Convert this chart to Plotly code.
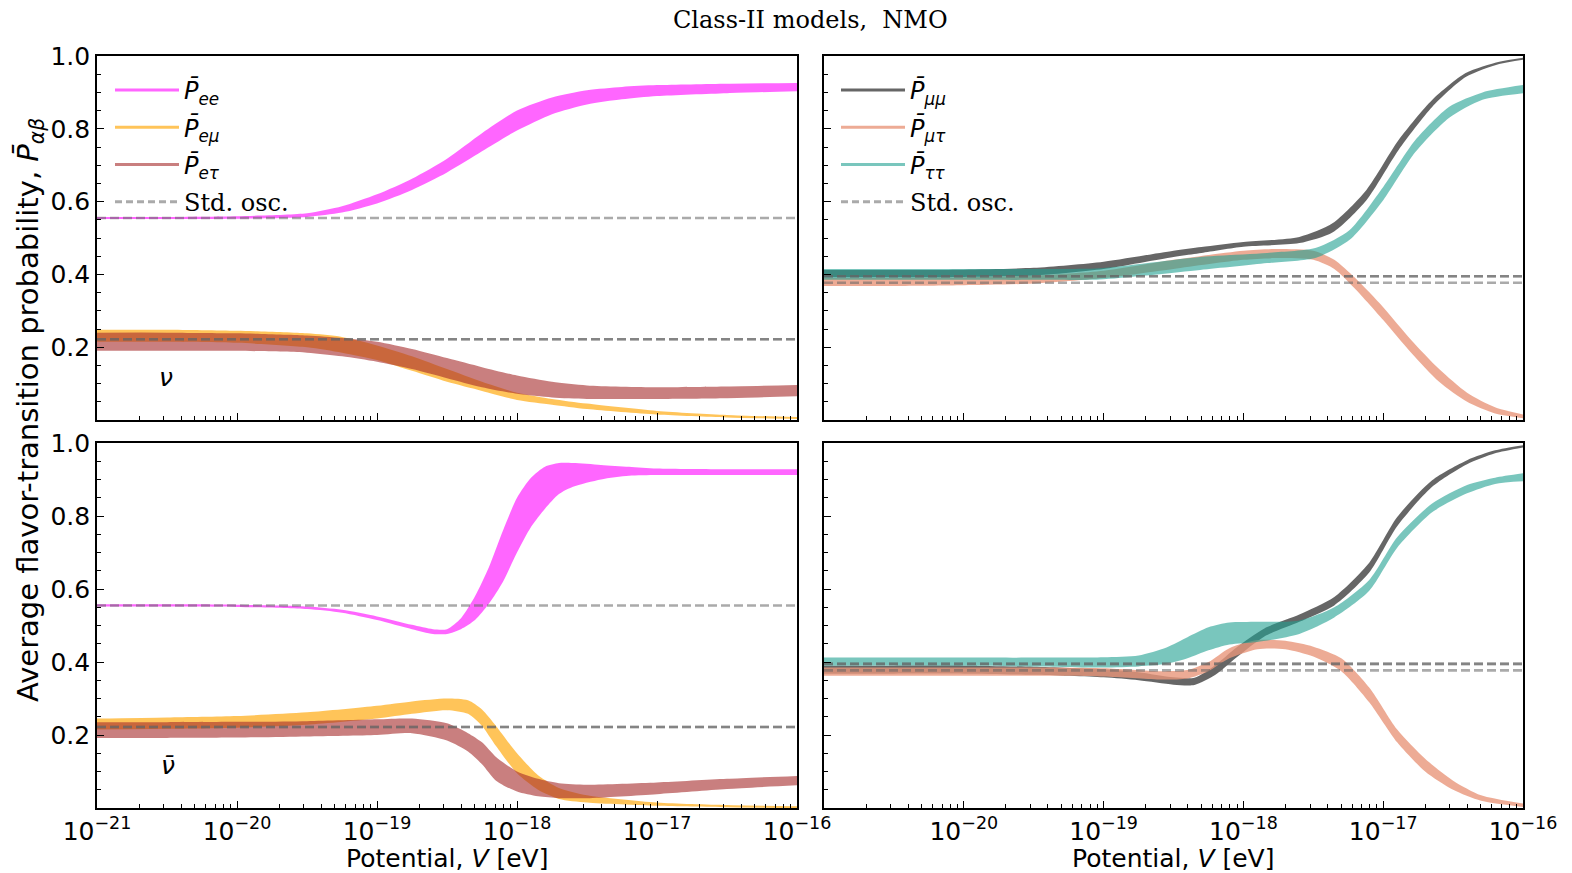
import numpy as np
import plotly.graph_objects as go

# ---------------- data (log10 of potential V [eV]) ----------------
# Top-left: neutrinos, P_ee / P_emu / P_etau bands (lo, hi)
nu_ee_x  = [-21, -20.5, -20, -19.5, -19.25, -19.0, -18.75, -18.5, -18.25, -18.0, -17.75, -17.5, -17.25, -17.0, -16.5, -16.0]
nu_ee_lo = [0.552, 0.552, 0.553, 0.558, 0.570, 0.595, 0.632, 0.680, 0.738, 0.795, 0.840, 0.867, 0.881, 0.890, 0.898, 0.903]
nu_ee_hi = [0.558, 0.558, 0.560, 0.568, 0.587, 0.620, 0.663, 0.718, 0.788, 0.850, 0.886, 0.906, 0.915, 0.920, 0.924, 0.926]

nu_em_x  = [-21, -20.5, -20, -19.5, -19.25, -19.0, -18.75, -18.5, -18.25, -18.0, -17.75, -17.5, -17.0, -16.5, -16.0]
nu_em_lo = [0.215, 0.215, 0.212, 0.200, 0.185, 0.165, 0.135, 0.105, 0.080, 0.055, 0.042, 0.030, 0.015, 0.007, 0.003]
nu_em_hi = [0.248, 0.248, 0.245, 0.238, 0.228, 0.205, 0.175, 0.140, 0.105, 0.075, 0.058, 0.045, 0.025, 0.014, 0.008]

nu_et_x  = [-21, -20.5, -20, -19.5, -19.25, -19.0, -18.75, -18.5, -18.25, -18.0, -17.75, -17.5, -17.0, -16.5, -16.0]
nu_et_lo = [0.190, 0.190, 0.190, 0.185, 0.175, 0.160, 0.140, 0.115, 0.090, 0.072, 0.062, 0.058, 0.058, 0.060, 0.065]
nu_et_hi = [0.240, 0.240, 0.238, 0.232, 0.225, 0.215, 0.195, 0.170, 0.145, 0.122, 0.105, 0.095, 0.090, 0.092, 0.096]

# Top-right: neutrinos, P_mumu / P_mutau / P_tautau
nu_mm_x  = [-21, -20.5, -20, -19.5, -19.0, -18.5, -18.3, -18.0, -17.6, -17.36, -17.12, -16.89, -16.65, -16.41, -16.17, -16.0]
nu_mm_lo = [0.392, 0.392, 0.393, 0.397, 0.415, 0.448, 0.459, 0.476, 0.486, 0.516, 0.604, 0.742, 0.860, 0.942, 0.978, 0.990]
nu_mm_hi = [0.412, 0.412, 0.413, 0.418, 0.435, 0.465, 0.475, 0.489, 0.503, 0.541, 0.632, 0.769, 0.879, 0.953, 0.984, 0.995]

nu_mt_x  = [-21, -20.5, -20, -19.5, -19.0, -18.5, -18.0, -17.75, -17.5, -17.35, -17.2, -17.0, -16.8, -16.6, -16.4, -16.2, -16.0]
nu_mt_lo = [0.368, 0.368, 0.370, 0.375, 0.390, 0.415, 0.440, 0.445, 0.440, 0.415, 0.360, 0.275, 0.185, 0.105, 0.050, 0.018, 0.005]
nu_mt_hi = [0.390, 0.390, 0.392, 0.397, 0.410, 0.440, 0.465, 0.470, 0.465, 0.440, 0.390, 0.310, 0.220, 0.140, 0.075, 0.035, 0.015]

nu_tt_x  = [-21, -20.5, -20, -19.5, -19.03, -18.31, -17.83, -17.48, -17.24, -17.0, -16.77, -16.53, -16.29, -16.0]
nu_tt_lo = [0.385, 0.385, 0.385, 0.385, 0.386, 0.412, 0.431, 0.446, 0.495, 0.604, 0.736, 0.830, 0.880, 0.898]
nu_tt_hi = [0.415, 0.415, 0.415, 0.415, 0.417, 0.448, 0.459, 0.473, 0.522, 0.640, 0.769, 0.860, 0.900, 0.920]

# Bottom-left: antineutrinos
an_ee_x  = [-21, -20.5, -20, -19.5, -19.25, -19.0, -18.75, -18.6, -18.5, -18.4, -18.3, -18.2, -18.1, -18.0, -17.9, -17.8, -17.7, -17.6, -17.4, -17.2, -17.0, -16.5, -16.0]
an_ee_lo = [0.552, 0.552, 0.551, 0.545, 0.535, 0.515, 0.490, 0.477, 0.477, 0.490, 0.515, 0.560, 0.620, 0.700, 0.770, 0.820, 0.860, 0.880, 0.900, 0.910, 0.912, 0.912, 0.912]
an_ee_hi = [0.558, 0.558, 0.557, 0.552, 0.543, 0.525, 0.502, 0.490, 0.490, 0.520, 0.580, 0.660, 0.760, 0.850, 0.905, 0.935, 0.945, 0.945, 0.940, 0.935, 0.930, 0.928, 0.928]

an_em_x  = [-21, -20.5, -20, -19.5, -19.0, -18.75, -18.5, -18.35, -18.25, -18.15, -18.0, -17.85, -17.7, -17.5, -17.0, -16.5, -16.0]
an_em_lo = [0.215, 0.217, 0.220, 0.228, 0.245, 0.258, 0.268, 0.258, 0.225, 0.170, 0.095, 0.050, 0.025, 0.015, 0.006, 0.002, 0.000]
an_em_hi = [0.245, 0.248, 0.252, 0.262, 0.280, 0.292, 0.300, 0.295, 0.270, 0.225, 0.150, 0.090, 0.055, 0.035, 0.015, 0.008, 0.005]

an_et_x  = [-21, -20.5, -20, -19.5, -19.0, -18.75, -18.5, -18.35, -18.25, -18.15, -18.0, -17.85, -17.7, -17.5, -17.0, -16.5, -16.0]
an_et_lo = [0.192, 0.192, 0.193, 0.196, 0.200, 0.205, 0.185, 0.155, 0.120, 0.075, 0.045, 0.032, 0.027, 0.027, 0.038, 0.052, 0.062]
an_et_hi = [0.235, 0.235, 0.236, 0.238, 0.243, 0.245, 0.232, 0.205, 0.180, 0.140, 0.100, 0.080, 0.068, 0.064, 0.070, 0.080, 0.088]

# Bottom-right: antineutrinos
an_mm_x  = [-21, -20.5, -20, -19.5, -19.0, -18.75, -18.5, -18.35, -18.2, -18.05, -17.85, -17.6, -17.35, -17.1, -16.9, -16.65, -16.4, -16.2, -16.0]
an_mm_lo = [0.368, 0.368, 0.368, 0.365, 0.358, 0.350, 0.338, 0.337, 0.365, 0.412, 0.470, 0.510, 0.555, 0.645, 0.772, 0.880, 0.942, 0.972, 0.988]
an_mm_hi = [0.390, 0.390, 0.390, 0.387, 0.380, 0.372, 0.358, 0.357, 0.392, 0.440, 0.492, 0.530, 0.578, 0.672, 0.797, 0.898, 0.953, 0.980, 0.994]

an_mt_x  = [-21, -20, -19.5, -19.0, -18.6, -18.4, -18.25, -18.1, -17.9, -17.7, -17.5, -17.3, -17.1, -16.9, -16.7, -16.5, -16.3, -16.0]
an_mt_lo = [0.362, 0.362, 0.362, 0.360, 0.352, 0.355, 0.375, 0.410, 0.435, 0.435, 0.415, 0.375, 0.290, 0.180, 0.100, 0.050, 0.020, 0.003]
an_mt_hi = [0.385, 0.385, 0.385, 0.383, 0.375, 0.378, 0.400, 0.438, 0.460, 0.458, 0.442, 0.410, 0.330, 0.215, 0.135, 0.075, 0.035, 0.012]

an_tt_x  = [-21, -20, -19.5, -19.0, -18.75, -18.55, -18.4, -18.25, -18.1, -17.9, -17.6, -17.35, -17.1, -16.9, -16.65, -16.4, -16.2, -16.0]
an_tt_lo = [0.390, 0.390, 0.388, 0.385, 0.388, 0.395, 0.410, 0.432, 0.448, 0.455, 0.477, 0.522, 0.595, 0.713, 0.810, 0.862, 0.888, 0.895]
an_tt_hi = [0.412, 0.412, 0.412, 0.413, 0.418, 0.440, 0.468, 0.495, 0.508, 0.510, 0.514, 0.550, 0.625, 0.742, 0.834, 0.885, 0.905, 0.917]

# Standard oscillation values
std_e = [0.555, 0.222, 0.222]        # ee, emu, etau
std_mu = [0.395, 0.377, 0.395]       # mumu, mutau, tautau

x_range_exp = [-21, -16]
y_ticks = [0.2, 0.4, 0.6, 0.8, 1.0]

# ---------------- styling ----------------
C_EE = "rgba(255,0,255,0.6)"
C_EM = "rgba(255,165,0,0.65)"
C_ET = "rgba(165,42,42,0.6)"
C_MM = "rgba(0,0,0,0.6)"
C_MT = "rgba(233,150,122,0.8)"
C_TT = "rgba(32,160,145,0.6)"
C_STD = "rgba(100,100,100,0.55)"

SANS = "DejaVu Sans"
SERIF = "DejaVu Serif"

W, H = 1572, 873
fig = go.Figure()

def band(xe, lo, hi, color, xa, ya):
    xv = [10.0 ** e for e in xe]
    fig.add_trace(go.Scatter(x=xv, y=lo, mode="lines", line=dict(width=0, color=color, shape="spline", smoothing=0.7),
                             xaxis=xa, yaxis=ya, showlegend=False, hoverinfo="skip"))
    fig.add_trace(go.Scatter(x=xv, y=hi, mode="lines", line=dict(width=0, color=color, shape="spline", smoothing=0.7),
                             fill="tonexty", fillcolor=color, xaxis=xa, yaxis=ya, showlegend=False, hoverinfo="skip"))

def std_line(val, xa, ya):
    xv = [10.0 ** x_range_exp[0], 10.0 ** x_range_exp[1]]
    fig.add_trace(go.Scatter(x=xv, y=[val, val], mode="lines",
                             line=dict(color=C_STD, width=2.6, dash="9px,4px"),
                             xaxis=xa, yaxis=ya, showlegend=False, hoverinfo="skip"))

# panels
band(nu_ee_x, nu_ee_lo, nu_ee_hi, C_EE, "x", "y")
band(nu_em_x, nu_em_lo, nu_em_hi, C_EM, "x", "y")
band(nu_et_x, nu_et_lo, nu_et_hi, C_ET, "x", "y")
for v in std_e:
    std_line(v, "x", "y")

band(nu_mm_x, nu_mm_lo, nu_mm_hi, C_MM, "x2", "y2")
band(nu_mt_x, nu_mt_lo, nu_mt_hi, C_MT, "x2", "y2")
band(nu_tt_x, nu_tt_lo, nu_tt_hi, C_TT, "x2", "y2")
for v in std_mu:
    std_line(v, "x2", "y2")

band(an_ee_x, an_ee_lo, an_ee_hi, C_EE, "x3", "y3")
band(an_em_x, an_em_lo, an_em_hi, C_EM, "x3", "y3")
band(an_et_x, an_et_lo, an_et_hi, C_ET, "x3", "y3")
for v in std_e:
    std_line(v, "x3", "y3")

band(an_mm_x, an_mm_lo, an_mm_hi, C_MM, "x4", "y4")
band(an_mt_x, an_mt_lo, an_mt_hi, C_MT, "x4", "y4")
band(an_tt_x, an_tt_lo, an_tt_hi, C_TT, "x4", "y4")
for v in std_mu:
    std_line(v, "x4", "y4")

# legend entries
def leg(name, color, legend, xa, ya, dash=None, group=None):
    fig.add_trace(go.Scatter(x=[None], y=[None], mode="lines", name=name,
                             line=dict(color=color, width=3, dash=dash),
                             xaxis=xa, yaxis=ya, legend=legend, legendgroup=group or name))

serif_std = f"<span style='font-family:{SERIF}'>Std. osc.</span>"
leg("<i>P\u0304</i><sub><i>ee</i></sub>", C_EE, "legend", "x", "y")
leg("<i>P\u0304</i><sub><i>e\u03bc</i></sub>", C_EM, "legend", "x", "y")
leg("<i>P\u0304</i><sub><i>e\u03c4</i></sub>", C_ET, "legend", "x", "y")
leg(serif_std, C_STD, "legend", "x", "y", dash="7px,4px", group="std1")
leg("<i>P\u0304</i><sub><i>\u03bc\u03bc</i></sub>", C_MM, "legend2", "x2", "y2")
leg("<i>P\u0304</i><sub><i>\u03bc\u03c4</i></sub>", C_MT, "legend2", "x2", "y2")
leg("<i>P\u0304</i><sub><i>\u03c4\u03c4</i></sub>", C_TT, "legend2", "x2", "y2")
leg(serif_std, C_STD, "legend2", "x2", "y2", dash="7px,4px", group="std2")

# axes geometry (pixels -> paper)
xl = [97 / W, 797 / W]
xr = [824 / W, 1523 / W]
yt = [1 - 420 / H, 1 - 56 / H]
yb = [1 - 808 / H, 1 - 443 / H]

dec_vals = [10.0 ** e for e in range(x_range_exp[0], x_range_exp[1] + 1)]
dec_text = [f"10<sup>\u2212{abs(e)}</sup>" for e in range(x_range_exp[0], x_range_exp[1] + 1)]
minor_vals = [k * 10.0 ** e for e in range(x_range_exp[0], x_range_exp[1]) for k in range(2, 10)]

TICK_SIZE = 25

def xaxis(domain, anchor, labels, text):
    return dict(domain=domain, anchor=anchor, type="log", automargin=False,
                range=x_range_exp, showline=True, mirror=True, linecolor="black", linewidth=1.6,
                showgrid=False, zeroline=False,
                ticks="inside", ticklen=7, tickwidth=1.3, tickcolor="black",
                tickmode="array", tickvals=dec_vals, ticktext=text, showticklabels=labels,
                tickfont=dict(family=SANS, size=TICK_SIZE, color="black"),
                minor=dict(tickmode="array", tickvals=minor_vals, ticks="inside", ticklen=4,
                           tickwidth=1.1, tickcolor="black", showgrid=False))

def yaxis(domain, anchor, labels):
    return dict(domain=domain, anchor=anchor, range=[0, 1], automargin=False,
                showline=True, mirror=True, linecolor="black", linewidth=1.6,
                showgrid=False, zeroline=False,
                ticks="inside", ticklen=7, tickwidth=1.3, tickcolor="black",
                tickmode="array", tickvals=y_ticks, ticktext=[f"{v:.1f}" for v in y_ticks],
                showticklabels=labels,
                tickfont=dict(family=SANS, size=TICK_SIZE, color="black"),
                minor=dict(dtick=0.05, tick0=0, ticks="inside", ticklen=4, tickwidth=1.1,
                           tickcolor="black", showgrid=False))

text_br = [""] + dec_text[1:]

fig.update_layout(
    width=W, height=H, margin=dict(l=0, r=0, t=0, b=0, autoexpand=False),
    paper_bgcolor="white", plot_bgcolor="white",
    font=dict(family=SANS, size=24, color="black"),
    xaxis=xaxis(xl, "y", False, dec_text),
    yaxis=yaxis(yt, "x", True),
    xaxis2=xaxis(xr, "y2", False, dec_text),
    yaxis2=yaxis(yt, "x2", False),
    xaxis3=xaxis(xl, "y3", True, dec_text),
    yaxis3=yaxis(yb, "x3", True),
    xaxis4=xaxis(xr, "y4", True, text_br),
    yaxis4=yaxis(yb, "x4", False),
    legend=dict(x=110 / W, y=1 - 68 / H, xanchor="left", yanchor="top", bgcolor="rgba(0,0,0,0)",
                font=dict(family=SANS, size=24), tracegroupgap=3, itemwidth=64),
    legend2=dict(x=836 / W, y=1 - 68 / H, xanchor="left", yanchor="top", bgcolor="rgba(0,0,0,0)",
                 font=dict(family=SANS, size=24), tracegroupgap=3, itemwidth=64),
    showlegend=True,
)

ann = []
ann.append(dict(text="Class-II models,  NMO", x=810 / W, y=1 - 20 / H, xref="paper", yref="paper",
                showarrow=False, font=dict(family=SERIF, size=24), xanchor="center", yanchor="middle"))
ann.append(dict(text="Average flavor-transition probability, <i>P\u0304</i><sub><i>\u03b1\u03b2</i></sub>",
                x=30 / W, y=1 - 410 / H, xref="paper", yref="paper", textangle=-90,
                showarrow=False, font=dict(family=SANS, size=29), xanchor="center", yanchor="middle"))
for cx in [447, 1173]:
    ann.append(dict(text="Potential, <i>V</i> [eV]", x=cx / W, y=1 - 858 / H, xref="paper", yref="paper",
                    showarrow=False, font=dict(family=SANS, size=25), xanchor="center", yanchor="middle"))
ann.append(dict(text="<i>\u03bd</i>", x=166 / W, y=1 - 377 / H, xref="paper", yref="paper",
                showarrow=False, font=dict(family=SANS, size=25), xanchor="center", yanchor="middle"))
ann.append(dict(text="<i>\u03bd\u0304</i>", x=168 / W, y=1 - 765 / H, xref="paper", yref="paper",
                showarrow=False, font=dict(family=SANS, size=25), xanchor="center", yanchor="middle"))
fig.update_layout(annotations=ann)

fig.write_html("out.html")
